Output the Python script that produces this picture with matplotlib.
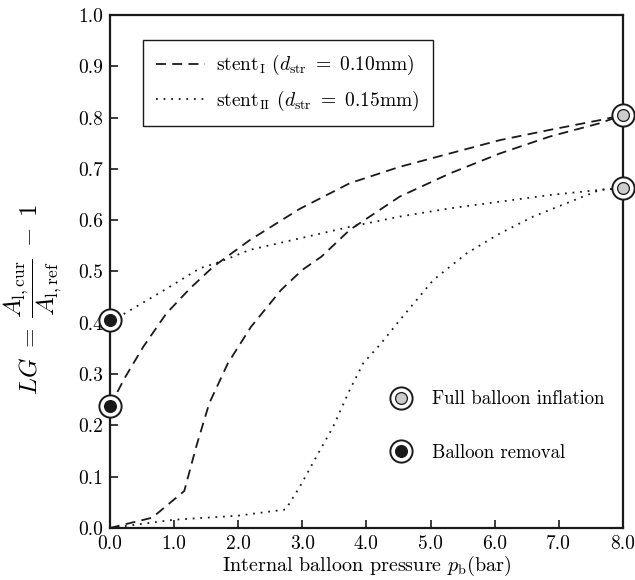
import matplotlib
matplotlib.use("Agg")
import matplotlib.pyplot as plt
from matplotlib.lines import Line2D
from matplotlib.legend_handler import HandlerTuple

plt.rcParams['font.family'] = 'serif'
plt.rcParams['font.serif'] = ['cmr10']
plt.rcParams['mathtext.fontset'] = 'cm'
plt.rcParams['axes.unicode_minus'] = False

# ---- data ----
p_I_inf = [0, 0.66, 1.16, 1.35, 1.55, 1.84, 2.2, 2.67, 3.0, 3.3, 3.74, 4.52, 5.3, 6.08, 6.86, 7.64, 8.0]
lg_I_inf = [0, 0.02, 0.072, 0.16, 0.243, 0.321, 0.392, 0.464, 0.503, 0.529, 0.581, 0.646, 0.691, 0.73, 0.763, 0.789, 0.805]

p_I_rem = [0, 0.23, 0.52, 0.88, 1.25, 1.61, 2.18, 2.96, 3.74, 4.52, 5.3, 6.08, 6.86, 7.64, 8.0]
lg_I_rem = [0.237, 0.292, 0.353, 0.418, 0.467, 0.509, 0.561, 0.622, 0.672, 0.704, 0.730, 0.756, 0.776, 0.795, 0.805]

p_II_inf = [0, 1.0, 2.0, 2.74, 2.96, 3.22, 3.48, 3.74, 3.95, 4.23, 4.52, 5.04, 5.56, 6.08, 6.60, 7.12, 7.64, 8.0]
lg_II_inf = [0, 0.016, 0.024, 0.036, 0.08, 0.139, 0.197, 0.269, 0.321, 0.36, 0.405, 0.483, 0.535, 0.574, 0.607, 0.633, 0.659, 0.663]

p_II_rem = [0, 0.23, 0.88, 1.40, 1.72, 2.18, 2.91, 3.74, 4.52, 5.30, 6.08, 6.86, 7.64, 8.0]
lg_II_rem = [0.405, 0.418, 0.466, 0.506, 0.519, 0.542, 0.563, 0.587, 0.607, 0.623, 0.636, 0.649, 0.659, 0.663]

full_p = [8.0, 8.0]
full_lg = [0.805, 0.663]
rem_p = [0.0, 0.0]
rem_lg = [0.237, 0.405]

xticks = [0, 1, 2, 3, 4, 5, 6, 7, 8]
xticklabels = ['0.0', '1.0', '2.0', '3.0', '4.0', '5.0', '6.0', '7.0', '8.0']
yticks = [0.0, 0.1, 0.2, 0.3, 0.4, 0.5, 0.6, 0.7, 0.8, 0.9, 1.0]
yticklabels = ['%.1f' % v for v in yticks]

# ---- figure ----
fig = plt.figure(figsize=(6.35, 5.8), dpi=100)
ax = fig.add_axes([0.173, 0.0897, 0.808, 0.8845])

dash = (0, (5.5, 3.5))
dot = (0, (1, 3.2))
lc = '#1a1a1a'
ax.plot(p_I_inf, lg_I_inf, color=lc, lw=1.3, linestyle=dash)
ax.plot(p_I_rem, lg_I_rem, color=lc, lw=1.3, linestyle=dash)
ax.plot(p_II_inf, lg_II_inf, color=lc, lw=1.3, linestyle=dot)
ax.plot(p_II_rem, lg_II_rem, color=lc, lw=1.3, linestyle=dot)

outer = dict(marker='o', markersize=16, markerfacecolor='white', markeredgecolor=lc,
             markeredgewidth=1.4, linestyle='none', clip_on=False, zorder=5)
ax.plot(full_p, full_lg, **outer)
ax.plot(rem_p, rem_lg, **outer)
ax.plot(full_p, full_lg, marker='o', markersize=8.5, markerfacecolor='#cccccc',
        markeredgecolor=lc, markeredgewidth=0.9, linestyle='none', clip_on=False, zorder=6)
ax.plot(rem_p, rem_lg, marker='o', markersize=8.5, markerfacecolor=lc,
        markeredgecolor=lc, markeredgewidth=0.9, linestyle='none', clip_on=False, zorder=6)

ax.set_xlim(0, 8)
ax.set_ylim(0, 1.0)
ax.set_xticks(xticks)
ax.set_xticklabels(xticklabels)
ax.set_yticks(yticks)
ax.set_yticklabels(yticklabels)
ax.tick_params(direction='in', length=6, width=1.2, labelsize=14, color=lc,
               top=False, right=False, pad=5)
for s in ax.spines.values():
    s.set_linewidth(1.6)
    s.set_color(lc)

ax.set_xlabel(r'Internal balloon pressure $p_{\mathrm{b}}$(bar)', fontsize=14.5, labelpad=1)
ax.set_ylabel(r'$LG\;=\;\dfrac{A_{\mathrm{l,cur}}}{A_{\mathrm{l,ref}}}\;-\;1$', fontsize=18)
ax.yaxis.set_label_coords(-0.088, 0.445)

h1 = Line2D([], [], color=lc, lw=1.3, linestyle=dash)
h2 = Line2D([], [], color=lc, lw=1.3, linestyle=dot)
leg1 = ax.legend([h1, h2],
                 [r'stent$_{\mathrm{I}}$ $(d_{\mathrm{str}}\ =\ 0.10\mathrm{mm})$',
                  r'stent$_{\mathrm{II}}$ $(d_{\mathrm{str}}\ =\ 0.15\mathrm{mm})$'],
                 loc='upper left', bbox_to_anchor=(0.064, 0.951), fontsize=14,
                 frameon=True, fancybox=False, edgecolor=lc, framealpha=1,
                 handlelength=2.5, labelspacing=0.6, borderpad=0.68, handletextpad=0.6,
                 borderaxespad=0)
leg1.get_frame().set_linewidth(1.0)
ax.add_artist(leg1)

o_h = Line2D([], [], marker='o', markersize=16, markerfacecolor='white', markeredgecolor=lc,
             markeredgewidth=1.4, linestyle='none')
g_h = Line2D([], [], marker='o', markersize=8.5, markerfacecolor='#cccccc', markeredgecolor=lc,
             markeredgewidth=0.9, linestyle='none')
b_h = Line2D([], [], marker='o', markersize=8.5, markerfacecolor=lc, markeredgecolor=lc,
             markeredgewidth=0.9, linestyle='none')
leg2 = ax.legend([(o_h, g_h), (o_h, b_h)], ['Full balloon inflation', 'Balloon removal'],
                 handler_map={tuple: HandlerTuple(ndivide=1, pad=0)},
                 loc='upper left', bbox_to_anchor=(0.527, 0.283), fontsize=13.5,
                 frameon=False, labelspacing=1.9, handletextpad=0.95, handlelength=1.4,
                 borderaxespad=0)

fig.savefig('out.png', dpi=100)
